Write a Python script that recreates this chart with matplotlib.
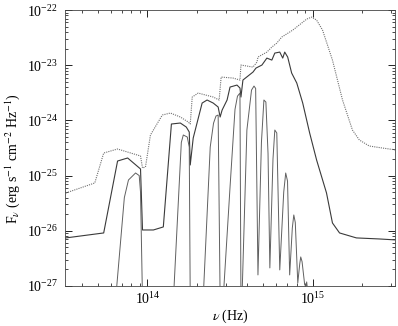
import numpy as np
import matplotlib
matplotlib.use("Agg")
import matplotlib.pyplot as plt

plt.rcParams['font.family'] = 'Liberation Serif'
plt.rcParams['mathtext.fontset'] = 'stix'

# log10(nu / Hz), log10(F_nu / erg s^-1 cm^-2 Hz^-1)

# upper (dotted) continuum
lognu_top = [13.506, 13.681, 13.735, 13.819, 13.958, 13.970, 13.988, 14.018, 14.090, 14.139,
             14.199, 14.247, 14.259, 14.271, 14.307, 14.398, 14.434, 14.446, 14.518, 14.560,
             14.566, 14.639, 14.663, 14.669, 14.723, 14.753, 14.783, 14.813, 14.880, 14.964,
             14.994, 15.024, 15.060, 15.120, 15.181, 15.241, 15.283, 15.343, 15.422, 15.506]
logf_top = [-25.315, -25.134, -24.591, -24.518, -24.645, -24.862, -24.844, -24.264, -23.902, -23.866,
            -23.938, -24.029, -24.065, -23.576, -23.504, -23.576, -23.630, -23.214, -23.232, -23.268,
            -22.996, -23.033, -22.942, -22.851, -22.761, -22.670, -22.598, -22.489, -22.362, -22.163,
            -22.127, -22.181, -22.362, -22.906, -23.630, -24.174, -24.355, -24.464, -24.500, -24.536]

# middle (solid) spectrum
lognu_mid = [13.506, 13.735, 13.819, 13.880, 13.958, 13.970, 14.036, 14.096, 14.145, 14.199,
             14.235, 14.253, 14.259, 14.277, 14.331, 14.361, 14.398, 14.428, 14.440, 14.452,
             14.482, 14.500, 14.542, 14.560, 14.566, 14.578, 14.639, 14.657, 14.693, 14.723,
             14.753, 14.771, 14.801, 14.819, 14.831, 14.849, 14.873, 14.904, 14.940, 14.982,
             15.024, 15.084, 15.120, 15.163, 15.265, 15.404, 15.506]
logf_mid = [-26.130, -26.040, -24.736, -24.681, -24.880, -25.986, -25.986, -25.931, -24.065, -24.047,
            -24.120, -24.210, -24.808, -24.319, -23.685, -23.630, -23.685, -23.757, -23.938, -23.812,
            -23.630, -23.395, -23.359, -23.413, -23.576, -23.268, -23.123, -23.051, -22.996, -22.870,
            -22.906, -22.779, -22.761, -22.870, -22.761, -22.851, -23.141, -23.322, -23.685, -24.228,
            -24.717, -25.315, -25.859, -26.040, -26.130, -26.149, -26.167]

# lower spectrum with narrow peaks
lognu_low = [13.807, 13.860, 13.885, 13.928, 13.950, 13.958, 13.970,
             14.157, 14.205, 14.217, 14.241, 14.253, 14.259,
             14.337, 14.380, 14.400, 14.415, 14.428, 14.440,
             14.458, 14.500, 14.530, 14.545, 14.560, 14.566,
             14.572, 14.602, 14.630, 14.645, 14.655, 14.669,
             14.690, 14.705, 14.717, 14.730, 14.741,
             14.760, 14.771, 14.783, 14.801,
             14.825, 14.837, 14.848, 14.861,
             14.877, 14.886, 14.895, 14.910,
             14.922, 14.928, 14.936, 14.952,
             14.960, 14.964, 14.976]
logf_low = [-27.254, -25.400, -25.080, -24.953, -25.000, -25.300, -27.254,
            -27.254, -24.400, -24.264, -24.301, -24.482, -27.254,
            -27.254, -24.482, -24.050, -23.920, -23.902, -27.254,
            -27.254, -25.207, -23.800, -23.560, -23.504, -27.254,
            -27.254, -24.174, -23.450, -23.377, -23.420, -26.801,
            -24.400, -23.630, -23.667, -24.600, -26.674,
            -24.700, -24.174, -24.228, -26.710,
            -25.300, -24.953, -25.100, -26.801,
            -25.950, -25.714, -25.850, -26.946,
            -26.600, -26.475, -26.560, -26.982,
            -27.000, -26.928, -27.254]

xticks = [1e14, 1e15]
yticks = [1e-27, 1e-26, 1e-25, 1e-24, 1e-23, 1e-22]

fig = plt.figure(figsize=(3.98, 3.26), dpi=100)
ax = fig.add_axes([0.163, 0.123, 0.830, 0.846])

ax.plot(10 ** np.array(lognu_top), 10 ** np.array(logf_top), color='#707070',
        lw=0.8, ls=(0, (1, 1)))
ax.plot(10 ** np.array(lognu_mid), 10 ** np.array(logf_mid), color='#3a3a3a', lw=0.8)
ax.plot(10 ** np.array(lognu_low), 10 ** np.array(logf_low), color='#606060', lw=0.7)

ax.set_xscale('log')
ax.set_yscale('log')
ax.set_xlim(10 ** 13.5, 10 ** 15.5)
ax.set_ylim(1e-27, 1e-22)

ax.xaxis.set_minor_locator(matplotlib.ticker.LogLocator(base=10, subs=np.arange(2, 10), numticks=20))
ax.yaxis.set_minor_locator(matplotlib.ticker.LogLocator(base=10, subs=np.arange(2, 10), numticks=20))
ax.set_xticks(xticks)
ax.set_yticks(yticks)

ax.tick_params(which='both', direction='in', top=True, right=True, labelsize=10)
ax.tick_params(which='major', length=5, width=0.6)
ax.tick_params(which='minor', length=2.5, width=0.5)
ax.tick_params(axis='y', pad=5)
for s in ax.spines.values():
    s.set_linewidth(0.6)
    s.set_color('#444444')

ax.set_xlabel(r'$\nu$ (Hz)', fontsize=10, labelpad=1)
ax.set_ylabel(r'F$_\nu$ (erg s$^{-1}$ cm$^{-2}$ Hz$^{-1}$)', fontsize=10, labelpad=1)
ax.yaxis.set_label_coords(-0.13, 0.46)

fig.savefig('out.png', dpi=100)
